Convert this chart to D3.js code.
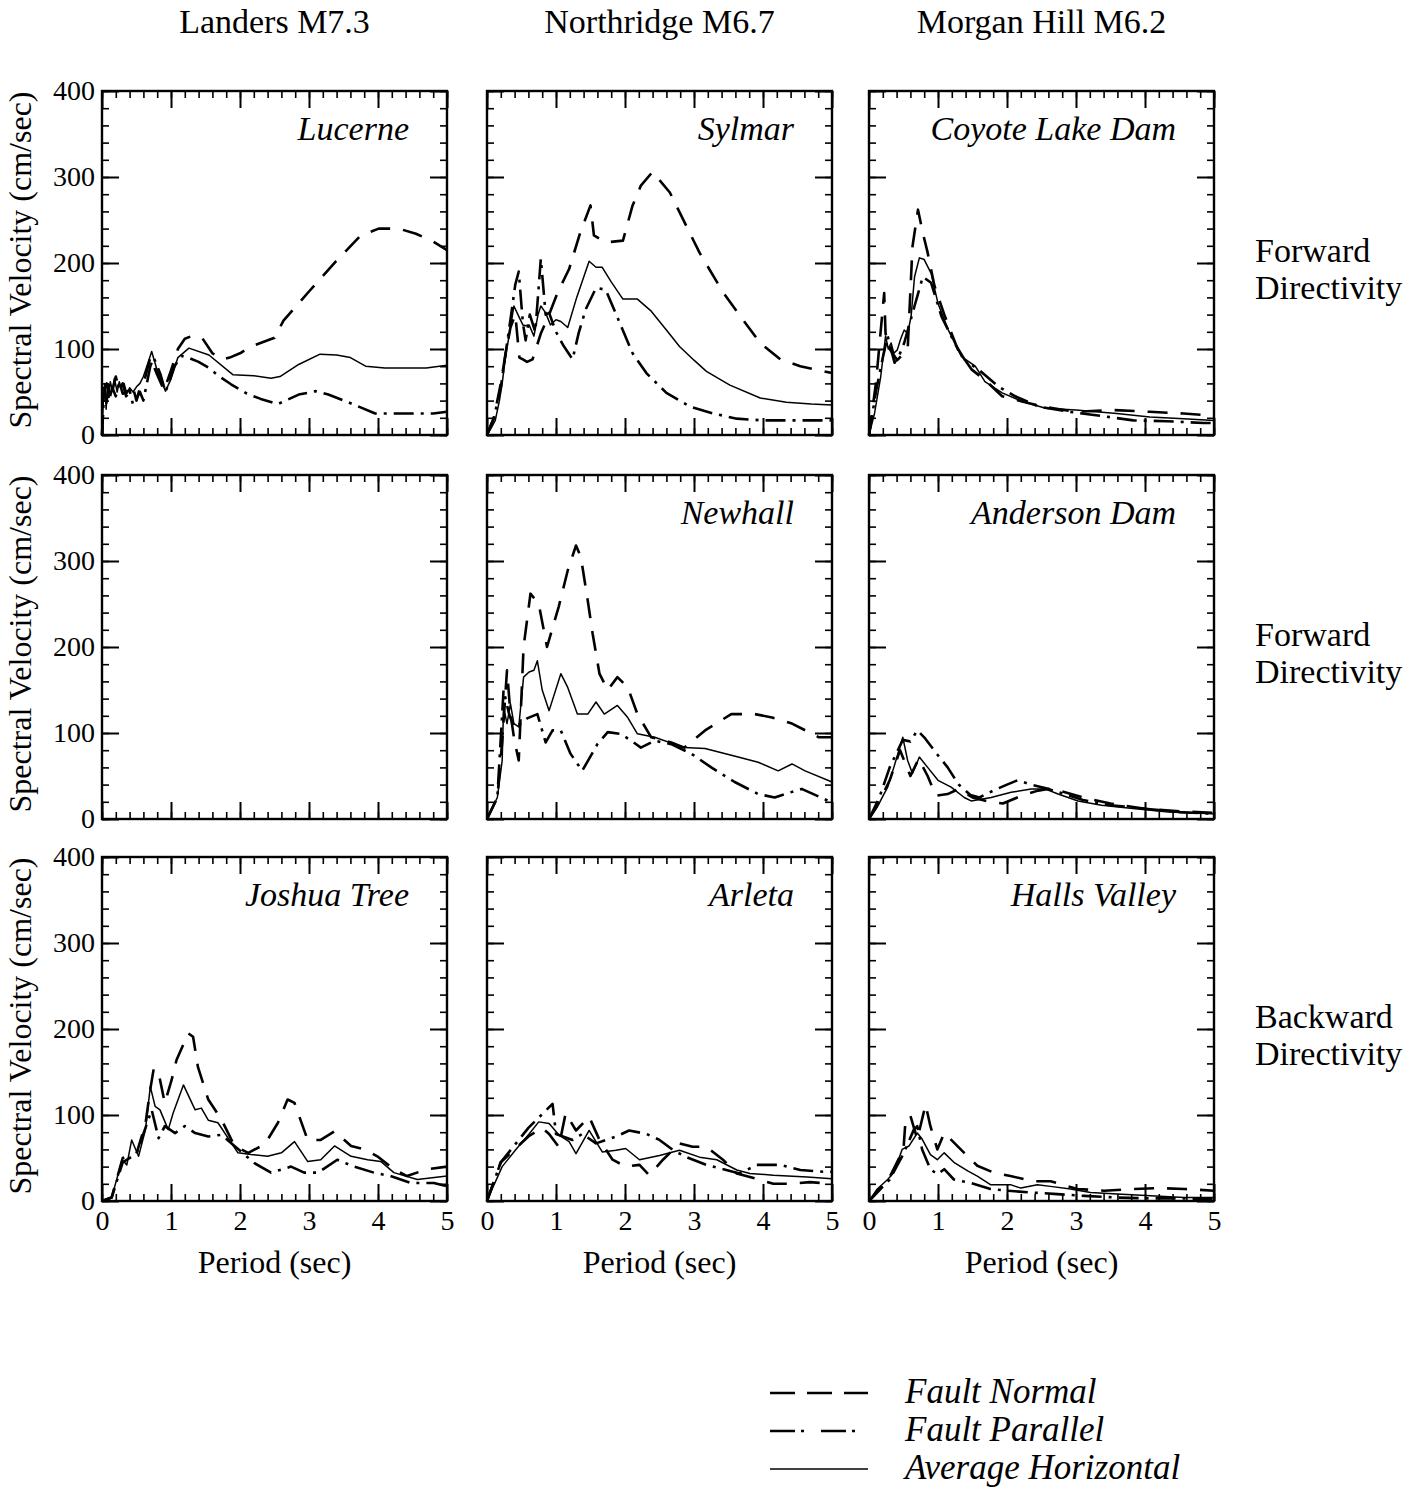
<!DOCTYPE html>
<html>
<head>
<meta charset="utf-8">
<script src="https://cdn.jsdelivr.net/npm/d3@7"></script>
<style>
  html, body { margin: 0; padding: 0; background: #fff; }
  svg { display: block; }
  text { font-family: "Liberation Serif", "Times New Roman", serif; fill: #000; }
</style>
</head>
<body>
<svg id="chart" width="1406" height="1487"></svg>
<script>
// ---- Earthquakes (columns) and directivity rows ----
const earthquakes = ["Landers M7.3", "Northridge M6.7", "Morgan Hill M6.2"];
const directivityRows = [["Forward", "Directivity"], ["Forward", "Directivity"], ["Backward", "Directivity"]];
const periodTicks = [0, 1, 2, 3, 4, 5];
const velocityTicks = [0, 100, 200, 300, 400];
const legendLabels = ["Fault Normal", "Fault Parallel", "Average Horizontal"];

// ---- Spectral velocity [period (sec), SV (cm/sec)] ----
const lucerneNormal = [[0,0],[0.03,55],[0.06,35],[0.1,60],[0.14,48],[0.2,68],[0.25,52],[0.3,60],[0.35,45],[0.45,55],[0.5,40],[0.55,55],[0.62,65],[0.7,90],[0.8,70],[0.9,52],[1.0,75],[1.1,100],[1.2,112],[1.3,115],[1.45,113],[1.6,95],[1.75,88],[1.85,90],[2.0,95],[2.16,103],[2.5,113],[2.63,133],[2.99,166],[3.38,201],[3.75,232],[4.01,240],[4.3,240],[4.55,234],[4.8,225],[5.0,215]];
const lucerneParallel = [[0,0],[0.03,50],[0.07,60],[0.1,40],[0.15,55],[0.2,45],[0.25,62],[0.3,48],[0.4,52],[0.45,35],[0.55,50],[0.6,40],[0.7,80],[0.75,90],[0.85,70],[0.92,50],[1.05,80],[1.15,92],[1.25,90],[1.4,85],[1.55,78],[1.7,68],[1.87,59],[2.1,48],[2.3,42],[2.55,36],[2.85,47],[3.1,51],[3.28,47],[3.57,38],[3.96,25],[4.26,25],[4.8,25],[5.0,27]];
const lucerneAverage = [[0,0],[0.02,40],[0.04,60],[0.06,30],[0.08,58],[0.1,45],[0.12,62],[0.15,52],[0.18,66],[0.22,50],[0.25,62],[0.28,55],[0.32,60],[0.36,48],[0.4,55],[0.45,50],[0.5,56],[0.55,60],[0.6,68],[0.65,80],[0.72,97],[0.8,75],[0.92,51],[1.0,65],[1.1,90],[1.26,101],[1.55,93],[1.9,70],[2.2,69],[2.45,66],[2.58,68],[2.85,82],[3.16,94],[3.4,93],[3.6,90],[3.82,80],[4.1,78],[4.4,78],[4.7,78],[5.0,81]];

const sylmarNormal = [[0,0],[0.1,20],[0.2,60],[0.27,95],[0.34,125],[0.41,140],[0.47,90],[0.52,88],[0.58,85],[0.66,88],[0.78,118],[0.9,140],[1.02,165],[1.19,193],[1.35,235],[1.5,267],[1.55,232],[1.72,224],[1.97,226],[2.11,267],[2.23,290],[2.4,306],[2.65,282],[2.84,251],[3.08,212],[3.42,166],[3.71,134],[3.96,107],[4.25,88],[4.54,80],[5.0,72]];
const sylmarParallel = [[0,0],[0.1,20],[0.2,55],[0.27,95],[0.35,140],[0.41,175],[0.46,190],[0.52,130],[0.56,110],[0.62,140],[0.7,120],[0.78,205],[0.85,140],[0.9,142],[1.0,120],[1.1,105],[1.24,88],[1.33,119],[1.43,146],[1.58,171],[1.72,169],[1.82,150],[2.11,95],[2.31,72],[2.6,49],[2.94,33],[3.28,25],[3.62,19],[4.0,17],[4.39,17],[5.0,17]];
const sylmarAverage = [[0,0],[0.06,8],[0.12,17],[0.18,40],[0.22,60],[0.27,92],[0.33,120],[0.39,150],[0.46,138],[0.52,128],[0.56,127],[0.61,128],[0.68,115],[0.74,140],[0.78,150],[0.85,142],[0.92,128],[1.0,134],[1.07,132],[1.17,125],[1.3,160],[1.48,202],[1.58,195],[1.67,195],[1.8,178],[1.97,158],[2.18,158],[2.38,144],[2.6,122],[2.79,103],[3.0,87],[3.18,74],[3.52,58],[3.96,43],[4.34,38],[4.7,36],[5.0,35]];

const coyoteNormal = [[0,0],[0.1,60],[0.22,165],[0.24,118],[0.3,100],[0.41,87],[0.5,95],[0.56,99],[0.63,219],[0.71,262],[0.78,235],[0.85,212],[0.95,173],[1.1,138],[1.29,99],[1.49,76],[1.68,64],[1.93,45],[2.22,39],[2.51,33],[3.0,27],[3.54,29],[4.07,27],[4.56,25],[4.9,23],[5.0,23]];
const coyoteParallel = [[0,0],[0.1,50],[0.2,90],[0.27,115],[0.37,84],[0.45,95],[0.51,107],[0.66,150],[0.78,184],[0.9,177],[1.05,138],[1.24,107],[1.39,87],[1.59,76],[1.88,56],[2.12,45],[2.46,33],[2.9,27],[3.29,23],[3.83,17],[4.32,16],[4.85,14],[5.0,14]];
const coyoteAverage = [[0,0],[0.08,25],[0.17,68],[0.24,115],[0.28,100],[0.32,107],[0.36,95],[0.41,99],[0.46,112],[0.51,122],[0.56,118],[0.61,138],[0.66,184],[0.73,206],[0.8,204],[0.9,188],[1.0,153],[1.15,122],[1.34,91],[1.54,80],[1.68,62],[1.93,49],[2.22,39],[2.56,31],[3.0,29],[3.59,25],[4.07,21],[4.56,19],[5.0,17]];

const newhallNormal = [[0,0],[0.15,25],[0.22,90],[0.29,173],[0.34,122],[0.4,90],[0.46,68],[0.53,200],[0.63,262],[0.75,250],[0.87,200],[1.04,247],[1.17,289],[1.29,318],[1.36,305],[1.46,254],[1.53,216],[1.63,169],[1.75,150],[1.89,165],[2.04,153],[2.18,122],[2.38,95],[2.67,89],[2.86,83],[3.16,103],[3.54,122],[3.88,122],[4.13,118],[4.42,111],[4.81,95],[5.0,95]];
const newhallParallel = [[0,0],[0.15,25],[0.24,150],[0.32,122],[0.39,107],[0.49,111],[0.58,117],[0.73,122],[0.85,89],[0.95,103],[1.07,103],[1.21,76],[1.38,56],[1.6,87],[1.75,101],[1.94,99],[2.09,91],[2.23,83],[2.43,91],[2.67,87],[2.96,76],[3.25,60],[3.59,43],[3.93,29],[4.17,25],[4.32,29],[4.56,35],[4.95,21],[5.0,20]];
const newhallAverage = [[0,0],[0.15,25],[0.22,68],[0.24,130],[0.29,111],[0.34,134],[0.39,111],[0.46,107],[0.53,165],[0.61,171],[0.68,173],[0.73,184],[0.8,150],[0.9,126],[1.07,169],[1.17,153],[1.31,122],[1.46,122],[1.58,136],[1.7,122],[1.89,132],[2.04,118],[2.18,99],[2.43,95],[2.86,83],[3.16,82],[3.64,72],[3.93,66],[4.22,56],[4.42,64],[4.61,56],[5.0,43]];

const andersonNormal = [[0,0],[0.15,20],[0.3,45],[0.45,80],[0.55,60],[0.6,50],[0.72,70],[0.85,50],[0.97,27],[1.14,29],[1.3,35],[1.5,25],[1.7,21],[1.94,18],[2.21,27],[2.45,33],[2.6,35],[2.8,32],[3.1,25],[3.5,18],[4.0,12],[4.5,9],[5.0,7]];
const andersonParallel = [[0,0],[0.15,25],[0.3,60],[0.49,92],[0.6,90],[0.7,103],[0.8,95],[0.99,75],[1.14,60],[1.3,40],[1.47,28],[1.6,25],[1.8,33],[2.0,40],[2.15,45],[2.35,40],[2.55,36],[2.8,30],[3.1,22],[3.5,16],[4.0,12],[4.5,8],[5.0,6]];
const andersonAverage = [[0,0],[0.12,14],[0.27,37],[0.36,60],[0.49,95],[0.56,68],[0.63,53],[0.73,72],[0.85,60],[1.0,45],[1.19,37],[1.38,25],[1.48,21],[1.77,25],[2.06,31],[2.35,35],[2.55,35],[2.74,29],[3.03,21],[3.37,16],[3.86,12],[4.34,8],[5.0,6]];

const joshuaNormal = [[0,0],[0.14,4],[0.3,50],[0.5,55],[0.63,90],[0.7,130],[0.75,154],[0.82,149],[0.91,114],[1.01,141],[1.08,164],[1.25,195],[1.32,191],[1.39,156],[1.54,118],[1.73,95],[1.92,64],[2.12,56],[2.36,66],[2.55,91],[2.69,118],[2.79,114],[2.98,71],[3.17,71],[3.37,81],[3.61,64],[3.8,60],[3.99,52],[4.23,37],[4.42,29],[4.71,37],[5.0,40]];
const joshuaParallel = [[0,0],[0.14,4],[0.3,45],[0.5,55],[0.63,85],[0.72,106],[0.82,73],[0.91,87],[1.06,79],[1.2,87],[1.35,79],[1.54,75],[1.73,77],[1.92,64],[2.21,44],[2.45,33],[2.74,40],[2.93,33],[3.13,33],[3.41,48],[3.65,40],[3.94,33],[4.18,29],[4.47,21],[4.81,21],[5.0,17]];
const joshuaAverage = [[0,0],[0.14,4],[0.24,33],[0.29,48],[0.36,42],[0.43,71],[0.53,52],[0.63,83],[0.7,133],[0.77,110],[0.84,106],[0.96,83],[1.03,102],[1.18,135],[1.35,106],[1.44,108],[1.54,94],[1.68,91],[1.97,56],[2.16,54],[2.4,52],[2.6,56],[2.79,69],[2.98,46],[3.17,48],[3.37,64],[3.61,52],[3.85,48],[4.04,46],[4.23,33],[4.57,25],[5.0,29]];

const arletaNormal = [[0,0],[0.2,45],[0.4,60],[0.6,75],[0.8,85],[0.9,78],[1.04,63],[1.14,102],[1.29,82],[1.48,98],[1.63,71],[1.82,48],[2.01,40],[2.21,42],[2.35,30],[2.55,48],[2.79,67],[2.98,63],[3.18,63],[3.42,48],[3.62,32],[3.81,28],[4.15,20],[4.39,20],[4.68,22],[5.0,20]];
const arletaParallel = [[0,0],[0.2,45],[0.4,65],[0.6,85],[0.95,113],[1.0,78],[1.24,71],[1.38,78],[1.58,67],[1.87,75],[2.06,82],[2.31,78],[2.5,71],[2.7,59],[2.89,51],[3.18,42],[3.37,38],[3.66,32],[3.91,42],[4.25,42],[4.54,36],[4.88,34],[5.0,34]];
const arletaAverage = [[0,0],[0.07,13],[0.22,40],[0.41,59],[0.61,78],[0.75,92],[0.9,90],[1.04,77],[1.19,69],[1.29,55],[1.48,82],[1.67,57],[1.87,59],[2.01,61],[2.21,48],[2.5,53],[2.79,59],[3.08,51],[3.33,48],[3.62,36],[3.81,32],[4.15,30],[4.64,28],[5.0,26]];

const hallsNormal = [[0,0],[0.3,28],[0.5,60],[0.53,95],[0.6,99],[0.7,72],[0.82,112],[0.89,87],[0.99,60],[1.09,79],[1.18,72],[1.38,56],[1.57,41],[1.81,33],[2.05,29],[2.39,23],[2.63,23],[3.02,14],[3.41,12],[3.84,14],[4.18,15],[4.57,14],[5.0,12]];
const hallsParallel = [[0,0],[0.3,25],[0.5,55],[0.65,83],[0.7,87],[0.77,60],[0.89,37],[0.99,31],[1.09,37],[1.23,25],[1.47,21],[1.76,14],[2.0,12],[2.34,10],[2.73,8],[3.12,6],[3.6,4],[4.08,3],[4.57,3],[5.0,2]];
const hallsAverage = [[0,0],[0.12,14],[0.27,25],[0.36,33],[0.48,60],[0.58,64],[0.7,79],[0.77,72],[0.89,54],[0.99,48],[1.09,56],[1.23,45],[1.43,35],[1.57,29],[1.76,19],[2.05,19],[2.2,15],[2.44,19],[2.63,17],[2.92,14],[3.21,10],[3.6,8],[4.08,6],[4.57,4],[5.0,4]];

// Station panels: column = earthquake, row = directivity case
const stations = [
  { name: "Lucerne",          col: 0, row: 0, normal: lucerneNormal,  parallel: lucerneParallel,  average: lucerneAverage },
  { name: "Sylmar",           col: 1, row: 0, normal: sylmarNormal,   parallel: sylmarParallel,   average: sylmarAverage },
  { name: "Coyote Lake Dam",  col: 2, row: 0, normal: coyoteNormal,   parallel: coyoteParallel,   average: coyoteAverage },
  { name: null,               col: 0, row: 1, normal: [],             parallel: [],               average: [] },
  { name: "Newhall",          col: 1, row: 1, normal: newhallNormal,  parallel: newhallParallel,  average: newhallAverage },
  { name: "Anderson Dam",     col: 2, row: 1, normal: andersonNormal, parallel: andersonParallel, average: andersonAverage },
  { name: "Joshua Tree",      col: 0, row: 2, normal: joshuaNormal,   parallel: joshuaParallel,   average: joshuaAverage },
  { name: "Arleta",           col: 1, row: 2, normal: arletaNormal,   parallel: arletaParallel,   average: arletaAverage },
  { name: "Halls Valley",     col: 2, row: 2, normal: hallsNormal,    parallel: hallsParallel,    average: hallsAverage }
];

// ---- Layout ----
const colLeft = [102, 487, 869];
const rowTop = [91, 475, 857];
const W = 345, H = 344;
const MAJOR = 17, MINOR = 7;
const styles = {
  normal:   { width: 2.6, dash: "20,13" },
  parallel: { width: 2.6, dash: "20,7,3,7" },
  average:  { width: 1.5, dash: null }
};

const svg = d3.select("#chart");
const x = d3.scaleLinear().domain([0, 5]).range([0, W]);
const y = d3.scaleLinear().domain([0, 400]).range([H, 0]);
const line = d3.line().x(d => x(d[0])).y(d => y(d[1]));

const minorX = d3.range(0, 5.0001, 0.2).map(v => +v.toFixed(1));
const minorY = d3.range(0, 400.01, 20);

stations.forEach(st => {
  const g = svg.append("g").attr("transform", `translate(${colLeft[st.col]},${rowTop[st.row]})`);
  const showY = st.col === 0, showX = st.row === 2;

  // minor ticks on all four sides, pointing inward
  const minorAxes = [
    [d3.axisBottom(x).tickValues(minorX), `translate(0,${H})`],
    [d3.axisTop(x).tickValues(minorX), `translate(0,0)`],
    [d3.axisLeft(y).tickValues(minorY), `translate(0,0)`],
    [d3.axisRight(y).tickValues(minorY), `translate(${W},0)`]
  ];
  minorAxes.forEach(([ax, tr]) => {
    g.append("g").attr("transform", tr)
      .call(ax.tickSize(-MINOR).tickFormat(""))
      .call(s => s.select(".domain").remove())
      .selectAll("line").attr("stroke", "#000").attr("stroke-width", 1.6);
  });

  // major ticks (with labels on outer edges)
  const bottom = g.append("g").attr("transform", `translate(0,${H})`)
    .call(d3.axisBottom(x).tickValues(periodTicks).tickSize(-MAJOR).tickPadding(9)
      .tickFormat(showX ? d3.format("d") : ""));
  const top = g.append("g").call(d3.axisTop(x).tickValues(periodTicks).tickSize(-MAJOR).tickFormat(""));
  const left = g.append("g")
    .call(d3.axisLeft(y).tickValues(velocityTicks).tickSize(-MAJOR).tickPadding(7)
      .tickFormat(showY ? d3.format("d") : ""));
  const right = g.append("g").attr("transform", `translate(${W},0)`)
    .call(d3.axisRight(y).tickValues(velocityTicks).tickSize(-MAJOR).tickFormat(""));
  [bottom, top, left, right].forEach(a => {
    a.select(".domain").remove();
    a.selectAll("line").attr("stroke", "#000").attr("stroke-width", 2);
    a.selectAll("text").attr("font-size", 28).attr("font-family", "Liberation Serif, serif").attr("fill", "#000");
  });

  // frame
  g.append("rect").attr("width", W).attr("height", H)
    .attr("fill", "none").attr("stroke", "#000").attr("stroke-width", 2.4);

  // spectral velocity curves
  ["normal", "parallel", "average"].forEach(key => {
    if (!st[key].length) return;
    g.append("path").datum(st[key]).attr("d", line)
      .attr("fill", "none").attr("stroke", "#000")
      .attr("stroke-width", styles[key].width)
      .attr("stroke-dasharray", styles[key].dash)
      .attr("stroke-linejoin", "round");
  });

  if (st.name) {
    g.append("text").attr("x", W - 38).attr("y", 49)
      .attr("text-anchor", "end").attr("font-style", "italic").attr("font-size", 34)
      .text(st.name);
  }

  if (showY) {
    g.append("text")
      .attr("transform", `translate(-71,${H / 2 - 3}) rotate(-90)`)
      .attr("text-anchor", "middle").attr("font-size", 32)
      .text("Spectral Velocity (cm/sec)");
  }
  if (showX) {
    g.append("text").attr("x", W / 2).attr("y", H + 72)
      .attr("text-anchor", "middle").attr("font-size", 32)
      .text("Period (sec)");
  }
});

// column titles
earthquakes.forEach((t, i) => {
  svg.append("text").attr("x", colLeft[i] + W / 2).attr("y", 33)
    .attr("text-anchor", "middle").attr("font-size", 34).text(t);
});

// row labels
directivityRows.forEach((lines, i) => {
  const t = svg.append("text").attr("x", 1255).attr("y", rowTop[i] + 171).attr("font-size", 34);
  lines.forEach((s, k) => t.append("tspan").attr("x", 1255).attr("dy", k ? 37 : 0).text(s));
});

// legend
const legend = svg.append("g").attr("transform", "translate(770,1393)");
["normal", "parallel", "average"].forEach((key, i) => {
  const ly = i * 38;
  legend.append("path").attr("d", d3.line()([[0, ly], [98, ly]]))
    .attr("stroke", "#000").attr("fill", "none")
    .attr("stroke-width", key === "average" ? 1.5 : 2.6)
    .attr("stroke-dasharray", key === "normal" ? "25,12" : key === "parallel" ? "25,6,3,17" : null);
  legend.append("text").attr("x", 135).attr("y", ly + 10)
    .attr("font-style", "italic").attr("font-size", 35).text(legendLabels[i]);
});
</script>
</body>
</html>
